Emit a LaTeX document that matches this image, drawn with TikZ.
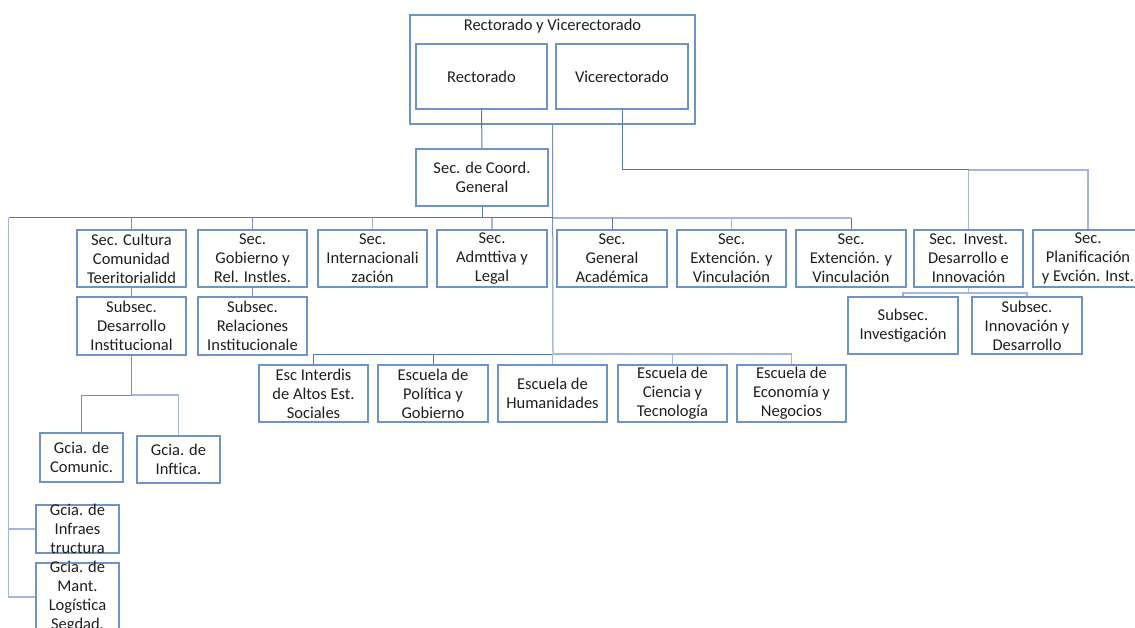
\documentclass[tikz,border=0pt]{standalone}
\usepackage{fontspec}
\setmainfont{Carlito}
\definecolor{bx}{HTML}{6E94C6}
\definecolor{ln}{HTML}{5577B3}
\definecolor{lnl}{HTML}{A3B7DB}
\definecolor{lng}{HTML}{7F8FB0}
\definecolor{txt}{HTML}{1E1E1E}
\begin{document}
\begin{tikzpicture}[x=1pt,y=-1pt,
  font=\fontsize{16.5}{19}\selectfont,
  box/.style={draw=bx, line width=2pt, inner sep=0pt, align=center, text=txt},
  lbl/.style={inner sep=0pt, align=center, text=txt},
  con/.style={draw=ln, line width=1pt},
  conl/.style={draw=lnl, line width=1.1pt},
  cong/.style={draw=lng, line width=1pt}]
\useasboundingbox (0,0) rectangle (1135,628);
\clip (0,0) rectangle (1135,628);
% top
\node[box, minimum width=285pt, minimum height=109pt] (outer) at (552.5,69.5) {};
\node[lbl] (title) at (552.5,26) {Rectorado y Vicerectorado};
\node[box, minimum width=131pt, minimum height=65pt] (rect) at (481.5,76.5) {Rectorado};
\node[box, minimum width=132pt, minimum height=65pt] (vice) at (622,76.5) {Vicerectorado};
\node[box, minimum width=132pt, minimum height=57pt] (coord) at (482,177.5) {Sec. de Coord.\\General};
% row 1
\node[box, minimum width=109pt, minimum height=57pt] (s1) at (131.5,258.5) {Sec. Cultura\\Comunidad\\Teeritorialidd};
\node[box, minimum width=109pt, minimum height=57pt] (s2) at (252.5,258.5) {Sec.\\Gobierno y\\Rel. Instles.};
\node[box, minimum width=109pt, minimum height=57pt] (s3) at (372.5,258.5) {Sec.\\Internacionali\\zación};
\node[box, minimum width=110pt, minimum height=57pt] (s4) at (492,258.5) {Sec.\\Admttiva y\\Legal};
\node[box, minimum width=110pt, minimum height=57pt] (s5) at (612,258.5) {Sec.\\General\\Académica};
\node[box, minimum width=109pt, minimum height=57pt] (s6) at (731.5,258.5) {Sec.\\Extención. y\\Vinculación};
\node[box, minimum width=110pt, minimum height=57pt] (s7) at (851,258.5) {Sec.\\Extención. y\\Vinculación};
\node[box, minimum width=109pt, minimum height=57pt] (inv) at (968.5,258.5) {Sec.\ \ Invest.\\Desarrollo e\\Innovación};
\node[box, minimum width=110pt, minimum height=57pt] (plan) at (1088,258.5) {Sec.\\Planificación\\y Evción. Inst.};
% subsec
\node[box, minimum width=109pt, minimum height=58pt] (ss1) at (131.5,326) {Subsec.\\Desarrollo\\Institucional};
\node[box, minimum width=109pt, minimum height=58pt] (ss2) at (252.5,326) {Subsec.\\Relaciones\\Institucionale};
\node[box, minimum width=110pt, minimum height=57pt] (is1) at (903,325.5) {Subsec.\\Investigación};
\node[box, minimum width=110pt, minimum height=57pt] (is2) at (1027,325.5) {Subsec.\\Innovación y\\Desarrollo};
% escuelas
\node[box, minimum width=109pt, minimum height=57pt] (e1) at (313.5,393.5) {Esc Interdis\\de Altos Est.\\Sociales};
\node[box, minimum width=110pt, minimum height=57pt] (e2) at (433,393.5) {Escuela de\\Política y\\Gobierno};
\node[box, minimum width=109pt, minimum height=57pt] (e3) at (552.5,393.5) {Escuela de\\Humanidades};
\node[box, minimum width=109pt, minimum height=57pt] (e4) at (672.5,393.5) {Escuela de\\Ciencia y\\Tecnología};
\node[box, minimum width=109pt, minimum height=57pt] (e5) at (791.5,393.5) {Escuela de\\Economía y\\Negocios};
% gerencias
\node[box, minimum width=83pt, minimum height=49pt] (g1) at (81.5,457.5) {Gcia. de\\Comunic.};
\node[box, minimum width=83pt, minimum height=47pt] (g2) at (178.5,459.5) {Gcia. de\\Inftica.};
\node[box, minimum width=83pt, minimum height=48pt] (infra) at (77.5,529) {};
\node[lbl] (infratxt) at (77.5,529) {Gcia. de\\Infraes\\tructura};
\node[box, minimum width=83pt, minimum height=68pt] (mant) at (77.5,597) {};
\node[lbl] (manttxt) at (77.5,597) {Gcia. de\\Mant.\\Logística\\Segdad.};
% coordinates
\coordinate (b1L) at (8.5,218);
\coordinate (b1M) at (553,218);
\coordinate (b1R) at (851,218);
\coordinate (escbus) at (553,354);
\coordinate (vbus) at (968.5,170);
\coordinate (ibus) at (968.5,293);
\coordinate (gbus) at (131.5,395);
% connectors
\draw[con] (rect.south) -- (coord.north);
\draw[cong] (outer.south) -- (escbus);
\draw[con] (coord.south) -- (coord.south |- b1L);
\draw[con] (b1L) -- (b1M);
\draw[conl] (b1M) -- (b1R);
\draw[cong] (s1.north) -- (s1.north |- b1L);
\draw[cong] (s2.north) -- (s2.north |- b1L);
\draw[conl] (s3.north) -- (s3.north |- b1L);
\draw[conl] (s4.north) -- (s4.north |- b1L);
\draw[con] (s5.north) -- (s5.north |- b1L);
\draw[conl] (s6.north) -- (s6.north |- b1L);
\draw[con] (s7.north) -- (s7.north |- b1L);
\draw[conl] (b1L) |- (infra.west);
\draw[conl] (b1L) |- (mant.west);
\draw[cong] (s1.south) -- (ss1.north);
\draw[cong] (s2.south) -- (ss2.north);
\draw[cong] (ss1.south) -- (gbus);
\draw[cong] (g1.north) |- (gbus);
\draw[conl] (gbus) -| (g2.north);
\draw[con] (e1.north) |- (escbus);
\draw[conl] (escbus) -| (e5.north);
\draw[con] (e2.north) -- (e2.north |- escbus);
\draw[conl] (e3.north) -- (e3.north |- escbus);
\draw[conl] (e4.north) -- (e4.north |- escbus);
\draw[con] (vice.south) |- (vbus);
\draw[conl] (vbus) -| (plan.north);
\draw[conl] (vbus) -- (inv.north);
\draw[conl] (inv.south) -- (ibus);
\draw[conl] (is1.north) |- (ibus) -| (is2.north);
\end{tikzpicture}
\end{document}
